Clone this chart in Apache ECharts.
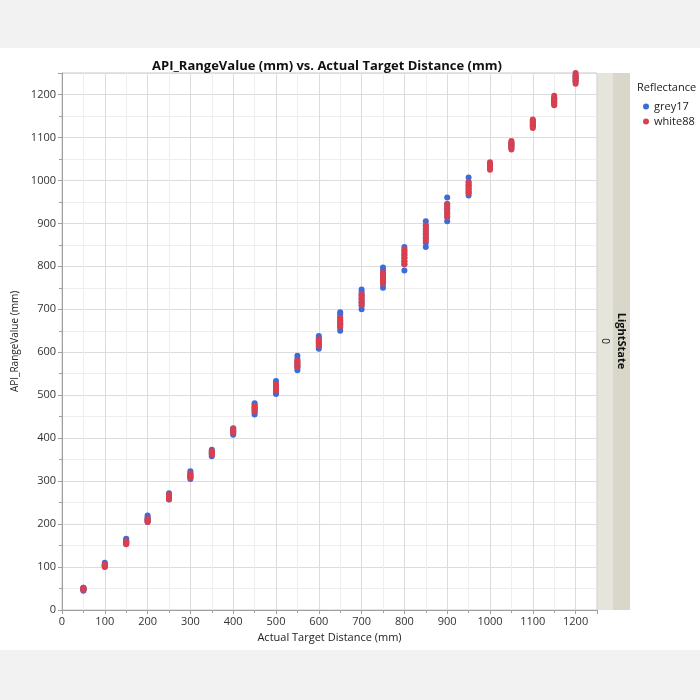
<!DOCTYPE html>
<html><head><meta charset="utf-8">
<script src="https://cdn.jsdelivr.net/npm/echarts@6/dist/echarts.min.js"></script>
<style>html,body{margin:0;padding:0;background:#f2f2f2;}#c{width:700px;height:700px;}</style>
</head><body><div id="c"></div>
<script>
var titleText = 'API_RangeValue (mm) vs. Actual Target Distance (mm)';
var xAxisName = 'Actual Target Distance (mm)';
var yAxisName = 'API_RangeValue (mm)';
var legendTitle = 'Reflectance';
var seriesNames = ['grey17', 'white88'];
var distances = [50,100,150,200,250,300,350,400,450,500,550,600,650,700,750,800,850,900,950,1000,1050,1100,1150,1200];
var grey17Values = [
 [45,47,49,50,52],
 [101,103,105,107,110],
 [154,157,160,163,166],
 [205,208,212,216,220],
 [257,260,264,268,272],
 [305,309,313,318,323],
 [358,362,366,370,373],
 [408,412,416,420,423],
 [455,460,466,472,478,481],
 [503,508,514,520,526,533],
 [558,564,570,577,584,592],
 [608,614,620,627,633,638],
 [650,657,665,673,681,688,693],
 [700,708,716,724,733,740,746],
 [750,758,766,774,782,790,797],
 [790,805,812,820,828,836,845],
 [845,855,865,875,885,895,905],
 [905,915,925,935,945,960],
 [965,972,980,988,996,1007],
 [1029,1033,1037],
 [1076,1080,1084,1088],
 [1126,1130,1134,1138],
 [1179,1183,1187,1191],
 [1230,1235,1240,1245]
];
var white88Values = [
 [47,49,51,52],
 [100,102,104,106],
 [153,155,158,160],
 [205,207,210,212],
 [258,261,264,268],
 [308,311,314,318],
 [362,364,367,370],
 [412,415,418,422],
 [462,466,470,475],
 [510,514,518,522,525],
 [565,569,573,577,580],
 [615,619,623,627,630],
 [660,665,670,675,680],
 [710,715,720,725,730,735],
 [760,765,770,775,780,785],
 [805,812,819,826,833,840],
 [860,867,874,881,888,895],
 [915,921,927,933,939,945],
 [970,975,980,985,990,995],
 [1025,1029,1033,1037,1042],
 [1072,1076,1080,1084,1088,1092],
 [1122,1126,1130,1134,1138,1142],
 [1175,1179,1183,1187,1191,1197],
 [1225,1230,1235,1240,1245,1250]
];
var stripLabel = 'LightState';
var stripLevel = '0';

function toPoints(vals){
  var pts = [];
  for (var i = 0; i < distances.length; i++) {
    for (var j = 0; j < vals[i].length; j++) pts.push([distances[i], vals[i][j]]);
  }
  return pts;
}
var colors = ['#3e6bd6', '#d8404f'];
var font = '"Open Sans", "Noto Sans", sans-serif';
var plain = function (v) { return String(v); };
var chart = echarts.init(document.getElementById('c'), null, {renderer: 'canvas'});
chart.setOption({
  backgroundColor: '#f2f2f2',
  animation: false,
  graphic: [
    {type: 'rect', z: -10, shape: {x: 0, y: 48, width: 700, height: 602}, style: {fill: '#ffffff'}, silent: true},
    {type: 'rect', z: -5, shape: {x: 597, y: 73, width: 16, height: 537}, style: {fill: '#e6e5dc'}},
    {type: 'rect', z: -5, shape: {x: 613, y: 73, width: 17, height: 537}, style: {fill: '#d9d7c9'}},
    {type: 'text', x: 621, y: 341, rotation: -Math.PI / 2, style: {text: stripLabel, font: 'bold 11px ' + font, fill: '#111', align: 'center', verticalAlign: 'middle'}},
    {type: 'text', x: 605, y: 341, rotation: -Math.PI / 2, style: {text: stripLevel, font: '10px ' + font, fill: '#222', align: 'center', verticalAlign: 'middle'}},
    {type: 'text', x: 637, y: 88, style: {text: legendTitle, font: '11px ' + font, fill: '#222', verticalAlign: 'middle'}}
  ],
  title: {
    text: titleText, left: 322, top: 55, textAlign: 'center',
    textStyle: {fontFamily: font, fontSize: 13, fontWeight: 'bold', color: '#111'}
  },
  legend: {
    data: seriesNames, orient: 'vertical', left: 638, top: 96, itemGap: 4,
    icon: 'circle', itemWidth: 6, itemHeight: 6,
    textStyle: {fontFamily: font, fontSize: 11, color: '#222'}
  },
  grid: {left: 62, right: 103, top: 73, bottom: 90, show: true, borderColor: '#c8c8c8', borderWidth: 1, backgroundColor: 'transparent'},
  xAxis: {
    type: 'value', min: 0, max: 1250, interval: 100,
    name: xAxisName, nameLocation: 'middle', nameGap: 21,
    nameTextStyle: {fontFamily: font, fontSize: 11, color: '#222'},
    axisLine: {show: true, lineStyle: {color: '#a0a0a0'}},
    axisTick: {show: true, length: 4, lineStyle: {color: '#a0a0a0'}},
    minorTick: {show: true, splitNumber: 2, length: 3, lineStyle: {color: '#a0a0a0'}},
    axisLabel: {fontFamily: font, fontSize: 11, color: '#333', margin: 6, showMaxLabel: false, formatter: plain},
    splitLine: {show: true, lineStyle: {color: '#dcdcdc', width: 1}},
    minorSplitLine: {show: true, lineStyle: {color: '#eeeeee', width: 1}}
  },
  yAxis: {
    type: 'value', min: 0, max: 1250, interval: 100,
    name: yAxisName, nameLocation: 'middle', nameGap: 41, nameRotate: 90,
    nameTextStyle: {fontFamily: font, fontSize: 10, color: '#222'},
    axisLine: {show: true, lineStyle: {color: '#a0a0a0'}},
    axisTick: {show: true, length: 4, lineStyle: {color: '#a0a0a0'}},
    minorTick: {show: true, splitNumber: 2, length: 3, lineStyle: {color: '#a0a0a0'}},
    axisLabel: {fontFamily: font, fontSize: 11, color: '#333', margin: 6, showMaxLabel: false, formatter: plain},
    splitLine: {show: true, lineStyle: {color: '#dcdcdc', width: 1}},
    minorSplitLine: {show: true, lineStyle: {color: '#eeeeee', width: 1}}
  },
  series: [
    {name: seriesNames[0], type: 'scatter', data: toPoints(grey17Values), symbolSize: 6, itemStyle: {color: colors[0], opacity: 1}, z: 2},
    {name: seriesNames[1], type: 'scatter', data: toPoints(white88Values), symbolSize: 6, itemStyle: {color: colors[1], opacity: 1}, z: 3}
  ]
});
</script>
</body></html>
